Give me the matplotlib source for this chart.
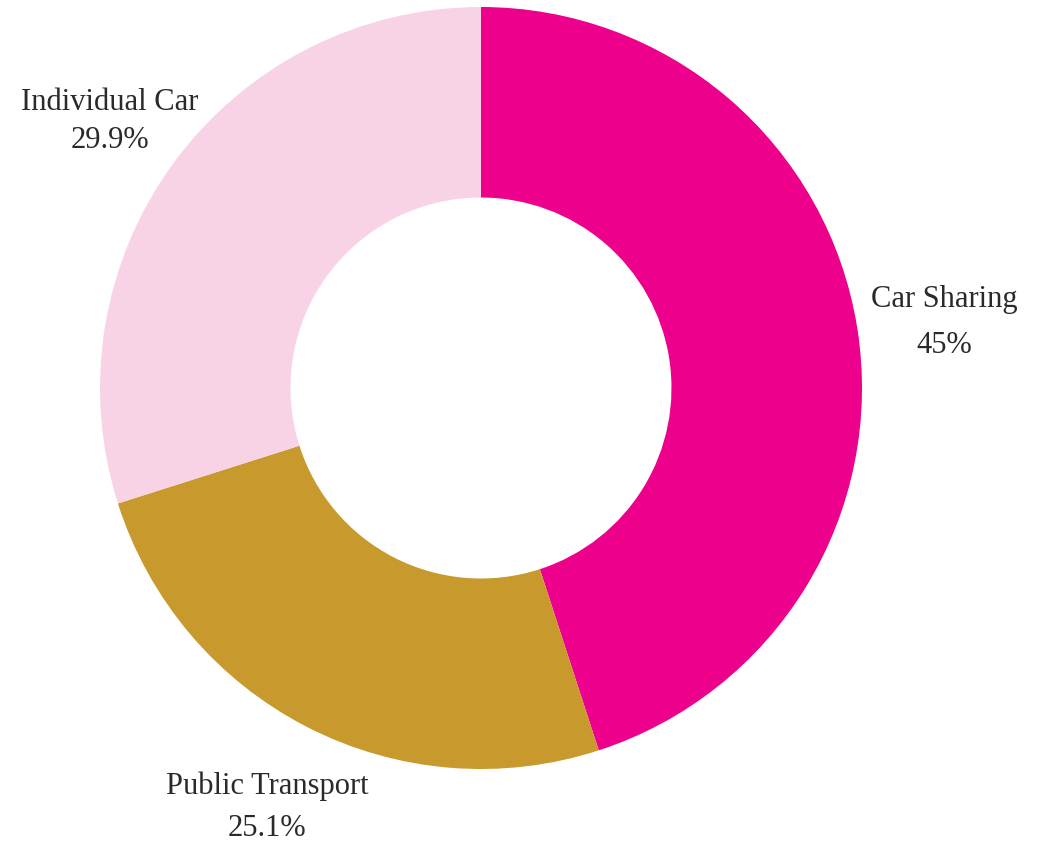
import matplotlib
matplotlib.use("Agg")
import matplotlib.pyplot as plt
from matplotlib.transforms import ScaledTranslation

categories = ["Car Sharing", "Public Transport", "Individual Car"]
values = [45.0, 25.1, 29.9]
colors = ["#EC008C", "#C8992D", "#F8D3E6"]

plt.rcParams['font.family'] = ['Liberation Serif', 'DejaVu Serif']

W, H = 1041, 845
fig = plt.figure(figsize=(W / 100, H / 100), dpi=100)
cx, cy, R = 481, 389, 381
ax = fig.add_axes([(cx - R) / W, (H - cy - R) / H, 2 * R / W, 2 * R / H])

labels = [f"{c}\n{v:g}%" for c, v in zip(categories, values)]
wedges, texts = ax.pie(values, colors=colors, startangle=90, counterclock=False,
                       radius=1.0, wedgeprops=dict(width=0.5, linewidth=0),
                       labels=labels, labeldistance=1.23,
                       textprops=dict(fontsize=22, color="#2a2a2a", ha="center",
                                      va="center", linespacing=1.6))
# per-label fine tuning (pixel offsets, line spacing)
offsets = [(0, -7), (0, -1), (7, -9.5)]
spacings = [1.75, 1.6, 1.41]
for t, (dx, dy), ls in zip(texts, offsets, spacings):
    t.set_horizontalalignment("center")
    t.set_linespacing(ls)
    t.set_transform(ax.transData + ScaledTranslation(dx / 100, dy / 100, fig.dpi_scale_trans))
    t.set_clip_on(False)
ax.set_xlim(-1, 1)
ax.set_ylim(-1, 1)
ax.set_aspect("equal")
ax.axis("off")

fig.savefig("out.png", dpi=100, facecolor="white")
